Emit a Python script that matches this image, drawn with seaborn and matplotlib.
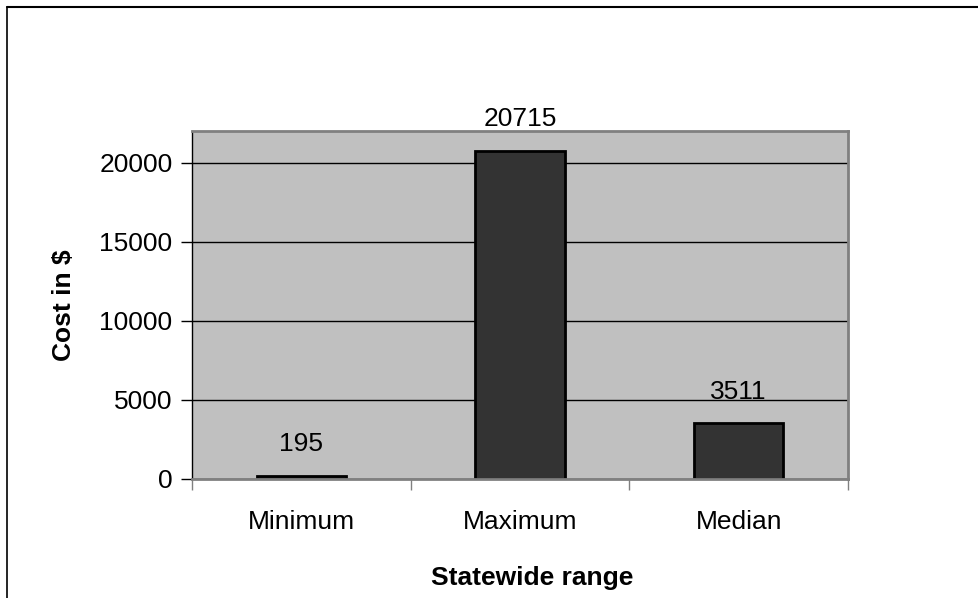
import pandas as pd
import matplotlib.pyplot as plt
import seaborn as sns
from matplotlib.lines import Line2D

categories = ["Minimum", "Maximum", "Median"]
costs = [195, 20715, 3511]

df = pd.DataFrame({"range": categories, "cost": costs})

sns.set_style("white")
plt.rcParams["font.family"] = ["Liberation Sans", "DejaVu Sans"]
plt.rcParams["text.color"] = "black"
plt.rcParams["axes.labelcolor"] = "black"
plt.rcParams["xtick.color"] = "black"
plt.rcParams["ytick.color"] = "black"

fig = plt.figure(figsize=(9.79, 5.98), dpi=100)
ax = fig.add_axes([192/979, 1 - 479/598, 656/979, 348/598])

sns.barplot(x="range", y="cost", data=df, ax=ax, color="#333333",
            edgecolor="black", linewidth=2, width=0.41, saturation=1)

ax.set_facecolor("#C0C0C0")
ax.set_xlim(-0.5, 2.5)
ax.set_ylim(0, 22000)
ax.set_yticks([0, 5000, 10000, 15000, 20000])
ax.yaxis.grid(True, color="black", linewidth=1)
ax.set_axisbelow(True)

# ticks between categories, labels at centres
ax.set_xticks([-0.5, 0.5, 1.5, 2.5], minor=True)
ax.tick_params(axis="x", which="major", length=0, pad=22, labelsize=19)
ax.tick_params(axis="x", which="minor", length=8, width=1, color="#808080", direction="out")
ax.tick_params(axis="y", length=8, width=1, color="black", direction="out", pad=6, labelsize=19)
ax.tick_params(left=True, bottom=True, which="both")

for side in ["top", "right", "bottom"]:
    ax.spines[side].set_color("#808080")
    ax.spines[side].set_linewidth(2)
ax.spines["left"].set_color("black")
ax.spines["left"].set_linewidth(1)

for i, v in enumerate(costs):
    ax.annotate(str(v), (i, v), xytext=(0, 23), textcoords="offset points",
                ha="center", va="center", fontsize=19, color="black")

ax.set_xlabel("Statewide range", fontsize=19, fontweight="bold")
ax.set_ylabel("Cost in $", fontsize=19, fontweight="bold")
ax.xaxis.set_label_coords(340/656, -(566 - 479)/348)
ax.yaxis.set_label_coords(-(192 - 76)/656, 0.5)

# outer chart frame (top and left edges visible)
fig.add_artist(Line2D([7/979, 1], [1 - 7/598, 1 - 7/598], color="black", linewidth=1.5))
fig.add_artist(Line2D([7/979, 7/979], [0, 1 - 7/598], color="black", linewidth=1.2))

plt.savefig("out.png", dpi=100)
